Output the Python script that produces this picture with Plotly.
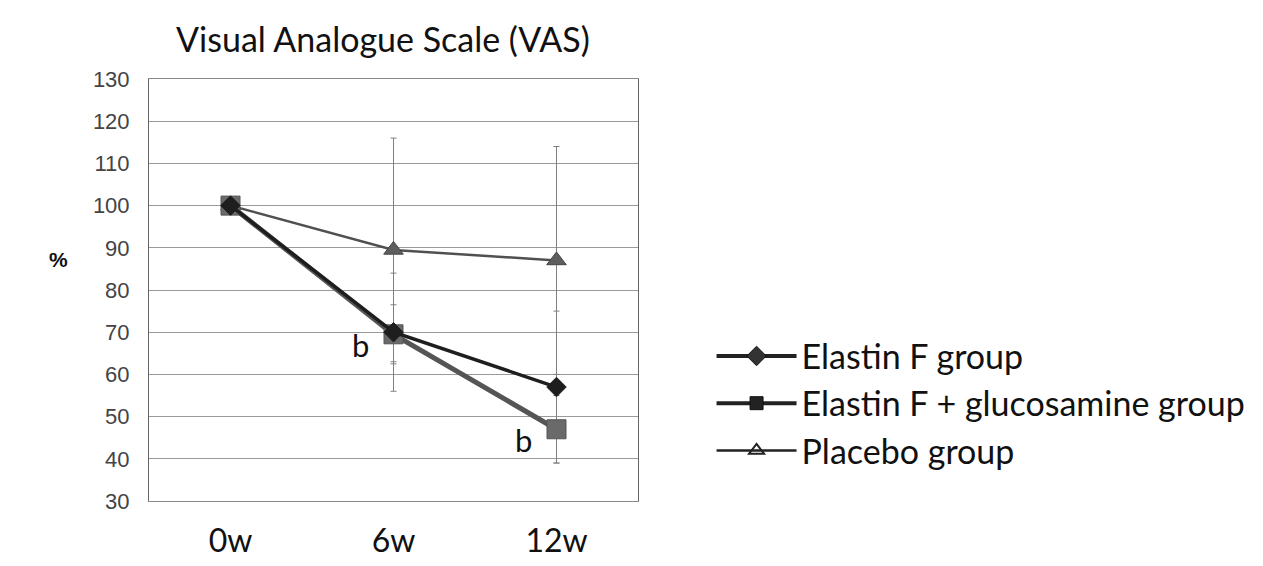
import plotly.graph_objects as go

# ---- data ----
weeks = ["0w", "6w", "12w"]
elastin_f = [100, 70, 57]
elastin_f_err = [0, 14, 18]
elastin_glu = [100, 69.5, 47]
elastin_glu_err = [0, 7, 8]
placebo = [100, 89.5, 87]
placebo_err = [0, 26.5, 27]
series_names = ["Elastin F group", "Elastin F + glucosamine group", "Placebo group"]
sig_labels = ["b", "b"]
sig_x = ["6w", "12w"]
sig_y = [69.5, 47]
y_ticks = list(range(30, 131, 10))

fig = go.Figure()

# error bars drawn first, beneath the lines
for vals, errs in [(placebo, placebo_err), (elastin_f, elastin_f_err), (elastin_glu, elastin_glu_err)]:
    fig.add_trace(go.Scatter(
        x=weeks, y=vals, mode="markers", marker=dict(size=1, color="rgba(0,0,0,0)"),
        error_y=dict(type="data", array=errs, visible=True, color="#808080", thickness=1, width=3),
        showlegend=False, hoverinfo="skip"))

fig.add_trace(go.Scatter(
    x=weeks, y=placebo, mode="lines+markers", name=series_names[2],
    line=dict(color="#505050", width=2.5),
    marker=dict(symbol="triangle-up", size=17, color="#5e5e5e", line=dict(color="#444", width=1)),
    showlegend=False))
fig.add_trace(go.Scatter(
    x=weeks, y=elastin_glu, mode="lines+markers", name=series_names[1],
    line=dict(color="#555555", width=5),
    marker=dict(symbol="square", size=19, color="#6a6a6a", line=dict(color="#555", width=1)),
    showlegend=False))
fig.add_trace(go.Scatter(
    x=weeks, y=elastin_f, mode="lines+markers", name=series_names[0],
    line=dict(color="#1e1e1e", width=3.5),
    marker=dict(symbol="diamond", size=15, color="#1e1e1e", line=dict(color="#1e1e1e", width=1)),
    showlegend=False))

# legend entries
leg_styles = [
    dict(symbol="diamond", size=15, color="#333", line=dict(color="#111", width=1)),
    dict(symbol="square", size=13, color="#222", line=dict(color="#111", width=1)),
    dict(symbol="triangle-up-open", size=13, color="#222", line=dict(color="#222", width=2)),
]
leg_lines = [dict(color="#222", width=4), dict(color="#222", width=4), dict(color="#222", width=2.5)]
for i, nm in enumerate(series_names):
    fig.add_trace(go.Scatter(
        x=[None], y=[None], mode="lines+markers", name=nm,
        line=leg_lines[i], marker=leg_styles[i], legendgroup=str(i)))

for lbl, sx, sy in zip(sig_labels, sig_x, sig_y):
    fig.add_annotation(x=sx, y=sy, text=lbl, showarrow=False, xshift=-33, yshift=-11,
                       font=dict(family="Lato", size=31, color="#111"))

fig.add_annotation(xref="paper", yref="paper", x=-0.208, y=0.573, text="<b>%</b>",
                   showarrow=False, font=dict(family="Liberation Sans", size=21, color="#111"))

fig.update_layout(
    width=1247, height=550,
    margin=dict(l=141, r=617, t=71, b=57),
    paper_bgcolor="white", plot_bgcolor="white",
    title=dict(text="Visual Analogue Scale (VAS)", x=0.3007, xanchor="center",
               y=0.9636, yanchor="top", font=dict(family="Lato", size=34, color="#111")),
    legend=dict(xref="container", yref="container", x=0.5642, y=0.4193,
                xanchor="left", yanchor="top",
                font=dict(family="Lato", size=34, color="#111"),
                tracegroupgap=0, itemwidth=80, bgcolor="rgba(0,0,0,0)"),
    showlegend=True,
)
fig.update_xaxes(type="category", range=[-0.5, 2.5], showgrid=False, automargin=False,
                 showline=True, linecolor="#888", linewidth=1, mirror=True,
                 tickfont=dict(family="Lato", size=32, color="#111"), ticks="",
                 ticklabelstandoff=12)
fig.update_yaxes(range=[30, 130], tickvals=y_ticks, showgrid=True, gridcolor="#9a9a9a",
                 gridwidth=1, showline=True, linecolor="#666", linewidth=1, mirror=True,
                 automargin=False,
                 tickfont=dict(family="Liberation Sans", size=22, color="#444"), ticks="",
                 ticklabelstandoff=14, zeroline=False)

fig.write_html("out.html")
